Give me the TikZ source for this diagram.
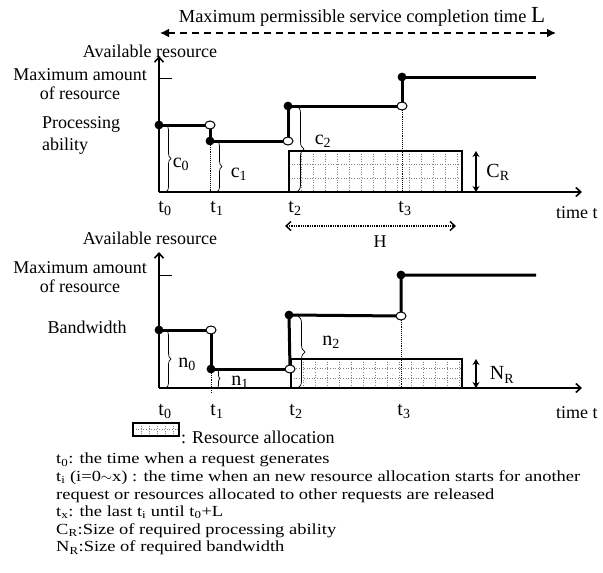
\documentclass[tikz,border=0pt]{standalone}
\usepackage{fontspec}
\setmainfont{Liberation Serif}
\newfontfamily\notesfont[FakeStretch=1.2]{Liberation Serif}
\usetikzlibrary{arrows.meta,decorations.pathreplacing}
\begin{document}
\begin{tikzpicture}[x=1pt,y=-1pt,
  txt/.style={font=\fontsize{18}{19}\selectfont, inner sep=0pt},
  tlab/.style={font=\fontsize{20}{20}\selectfont, inner sep=0pt},
  axisln/.style={line width=2.2pt, -{Straight Barb[length=5pt,width=9pt,line width=1.6pt]}},
  stepln/.style={line width=3pt},
  guide/.style={line width=0.9pt, densely dotted},
  brc/.style={decorate, decoration={brace, amplitude=5pt}, line width=0.7pt},
  rectbox/.style={line width=1.6pt},
  grid/.style={gray, line width=0.6pt, dotted},
  fdot/.style={fill=black},
  odot/.style={fill=white, draw=black, line width=1pt},
  sizearr/.style={line width=1.3pt, {Stealth[length=6pt,width=7pt]}-{Stealth[length=6pt,width=7pt]}}]
\useasboundingbox (0,0) rectangle (603,573);

% ---------- top L arrow ----------
\node[txt, font=\fontsize{18.4}{20}\selectfont] (Ltext) at (362,17) {Maximum permissible service completion time {\fontsize{23}{23}\selectfont L}};
\coordinate (La) at (160,33);
\coordinate (Lb) at (556,33);
\draw[line width=1.6pt, dash pattern=on 7pt off 5pt, {Latex[length=9pt,width=9pt]}-{Latex[length=9pt,width=9pt]}] (La) -- (Lb);

% ================= TOP CHART =================
\coordinate (O1) at (159,192);
\coordinate (Y1) at (159,56);
\coordinate (X1) at (582,192);
\node[txt] (avail1) at (150,51) {Available resource};
\node[txt, align=center] (max1) at (80,84) {Maximum amount\\of resource};
\node[txt, align=left, anchor=west] (proc) at (42,135) {Processing\\[3pt]ability};
\node[txt, anchor=west] (time1) at (556,213) {time t};

% allocation rectangle
\coordinate (R1a) at (289,151);
\coordinate (R1b) at (462,192);
\foreach \x in {301,313,...,457} \draw[grid] (\x,151) -- (\x,192);
\foreach \y in {164.7,178.3} \draw[grid] (289,\y) -- (462,\y);
\draw[rectbox] (R1a) rectangle (R1b);

% guides
\draw[guide] (210,141) -- (210,192);
\draw[guide] (402,106) -- (402,192);

% axes
\draw[axisln] (O1) -- (Y1);
\draw[axisln] (O1) -- (X1);
\draw[line width=1pt] (159,78) -- (172,78);

% steps
\coordinate (a0) at (159,125); \coordinate (a0e) at (210,125);
\coordinate (a1) at (210,141); \coordinate (a1e) at (288,141);
\coordinate (a2) at (288,106); \coordinate (a2e) at (402,106);
\coordinate (a3) at (402,77);  \coordinate (a3e) at (536,77);
\draw[stepln] (a0) -- (a0e) -- (a1) -- (a1e);
\draw[stepln] (a1e) -- (a2) -- (a2e) -- (a3) -- (a3e);
\fill[fdot] (a0) circle (4.4pt) (a1) circle (4.4pt) (a2) circle (4.4pt) (a3) circle (4.4pt);
\filldraw[odot] (a0e) ellipse (5pt and 4pt);
\filldraw[odot] (a1e) ellipse (5pt and 4pt);
\filldraw[odot] (a2e) ellipse (5pt and 4pt);

% braces
\draw[brc] (166,125) -- (166,192);
\draw[brc] (217,141) -- (217,192);
\draw[brc, decoration={brace, amplitude=7pt}] (297,106) -- (297,192);
\node[tlab] (c0) at (181,164) {c\textsubscript{0}};
\node[tlab] (c1) at (239,174) {c\textsubscript{1}};
\node[tlab] (c2) at (323,141) {c\textsubscript{2}};

% CR arrow
\draw[sizearr] (476,151) -- (476,192);
\node[tlab] (CR) at (498,172) {C\textsubscript{R}};

% t labels
\node[tlab] (t0a) at (165,208) {t\textsubscript{0}};
\node[tlab] (t1a) at (217,208) {t\textsubscript{1}};
\node[tlab] (t2a) at (295,208) {t\textsubscript{2}};
\node[tlab] (t3a) at (405,208) {t\textsubscript{3}};

% H arrow
\coordinate (Ha) at (285,226);
\coordinate (Hb) at (456,226);
\draw[line width=1.3pt, densely dotted, {Straight Barb[length=5pt,width=9pt,line width=1.4pt]}-{Straight Barb[length=5pt,width=9pt,line width=1.4pt]}] (Ha) -- (Hb);
\node[txt] (H) at (380,242) {H};

% ================= BOTTOM CHART =================
\coordinate (O2) at (159,388);
\coordinate (Y2) at (159,252);
\coordinate (X2) at (582,388);
\node[txt] (avail2) at (150,238) {Available resource};
\node[txt, align=center] (max2) at (80,277) {Maximum amount\\of resource};
\node[txt] (band) at (87,327) {Bandwidth};
\node[txt, anchor=west] (time2) at (556,413) {time t};

\coordinate (R2a) at (291,359);
\coordinate (R2b) at (462,388);
\foreach \x in {303,315,...,459} \draw[grid] (\x,359) -- (\x,388);
\foreach \y in {368.7,378.3} \draw[grid] (291,\y) -- (462,\y);
\draw[rectbox] (R2a) rectangle (R2b);

\draw[guide] (211,369) -- (211,392);
\draw[guide] (401,316) -- (401,388);

\draw[axisln] (O2) -- (Y2);
\draw[axisln] (O2) -- (X2);
\draw[line width=1pt] (159,275) -- (172,275);

\coordinate (b0) at (159,330); \coordinate (b0e) at (211,330);
\coordinate (b1) at (211,369); \coordinate (b1e) at (290,369);
\coordinate (b2) at (289,315); \coordinate (b2e) at (401,316);
\coordinate (b3) at (401,275); \coordinate (b3e) at (536,275);
\draw[stepln] (b0) -- (b0e) -- (b1) -- (b1e);
\draw[stepln] (b1e) -- (b2);
\draw[stepln] (b2) -- (b2e) -- (b3) -- (b3e);
\fill[fdot] (b0) circle (4.4pt) (b1) circle (4.4pt) (b2) circle (4.4pt) (b3) circle (4.4pt);
\filldraw[odot] (b0e) ellipse (5pt and 4pt);
\filldraw[odot] (b1e) ellipse (5pt and 4pt);
\filldraw[odot] (b2e) ellipse (5pt and 4pt);

\draw[brc] (166,330) -- (166,388);
\draw[brc, decoration={brace, amplitude=3pt}] (217,369) -- (217,388);
\draw[brc, decoration={brace, amplitude=7pt}] (298,316) -- (298,388);
\node[tlab] (n0) at (187,364) {n\textsubscript{0}};
\node[tlab] (n1) at (240,382) {n\textsubscript{1}};
\node[tlab] (n2) at (331,342) {n\textsubscript{2}};

\draw[sizearr] (476,359) -- (476,388);
\node[tlab] (NR) at (502,375) {N\textsubscript{R}};

\node[tlab] (t0b) at (165,411) {t\textsubscript{0}};
\node[tlab] (t1b) at (217,411) {t\textsubscript{1}};
\node[tlab] (t2b) at (296,411) {t\textsubscript{2}};
\node[tlab] (t3b) at (404,411) {t\textsubscript{3}};

% legend
\coordinate (Ga) at (133,423);
\coordinate (Gb) at (179,436);
\foreach \x in {141,149,...,173} \draw[grid] (\x,423) -- (\x,436);
\draw[grid] (133,429.5) -- (179,429.5);
\draw[line width=1.6pt] (Ga) rectangle (Gb);
\node[txt, anchor=west] (legend) at (181,437) {: Resource allocation};

% notes
\node[txt, anchor=north west, align=left, font=\notesfont\fontsize{15.4}{17.6}\selectfont] (notes) at (56,453) {%
t\textsubscript{0}: the time when a request generates\\
t\textsubscript{i} (i=0$\sim$x) : the time when an new resource allocation starts for another\\
request or resources allocated to other requests are released\\
t\textsubscript{x}: the last t\textsubscript{i} until t\textsubscript{0}+L\\
C\textsubscript{R}:Size of required processing ability\\
N\textsubscript{R}:Size of required bandwidth};
\end{tikzpicture}
\end{document}
